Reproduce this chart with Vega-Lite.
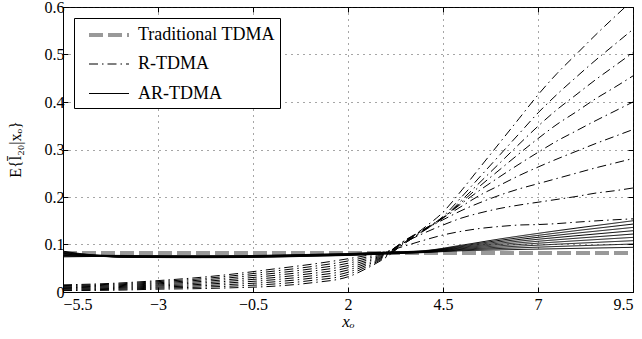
{
"$schema":"https://vega.github.io/schema/vega-lite/v6.json",
"width":570,"height":285,
"autosize":{"type":"none"},
"padding":{"left":63,"top":7,"right":9,"bottom":47},
"background":"white",
"config":{
"font":"Liberation Serif",
"view":{"stroke":"#000","strokeWidth":1},
"axis":{"labelFont":"Liberation Serif","titleFont":"Liberation Serif","labelColor":"#000","titleColor":"#000","labelFontSize":16,"titleFontSize":17,"titleFontWeight":"normal","domainColor":"#000","tickColor":"#000","tickSize":-5,"gridColor":"#222","gridDash":[1,5],"gridOpacity":0.8},
"legend":{"labelFont":"Liberation Serif","labelFontSize":18,"labelColor":"#000","strokeColor":"#000","fillColor":"#fff","padding":5,"symbolType":"M-2,0H2","symbolSize":400,"symbolOffset":18,"labelOffset":17,"rowPadding":9.5}
},
"data":{"values":[
{"m":"Traditional TDMA","c":"T","x":-5.5,"y":0.082},{"m":"Traditional TDMA","c":"T","x":9.5,"y":0.082},
{"m":"R-TDMA","c":"R1","x":-5.5,"y":0.003},{"m":"R-TDMA","c":"R1","x":-4,"y":0.004},{"m":"R-TDMA","c":"R1","x":-3,"y":0.006},{"m":"R-TDMA","c":"R1","x":-2,"y":0.007},{"m":"R-TDMA","c":"R1","x":-1,"y":0.009},{"m":"R-TDMA","c":"R1","x":0,"y":0.012},{"m":"R-TDMA","c":"R1","x":1,"y":0.019},{"m":"R-TDMA","c":"R1","x":2,"y":0.032},{"m":"R-TDMA","c":"R1","x":2.5,"y":0.05},{"m":"R-TDMA","c":"R1","x":3,"y":0.073},{"m":"R-TDMA","c":"R1","x":3.5,"y":0.105},{"m":"R-TDMA","c":"R1","x":4,"y":0.135},{"m":"R-TDMA","c":"R1","x":4.5,"y":0.168},{"m":"R-TDMA","c":"R1","x":5,"y":0.215},{"m":"R-TDMA","c":"R1","x":5.5,"y":0.265},{"m":"R-TDMA","c":"R1","x":6,"y":0.315},{"m":"R-TDMA","c":"R1","x":6.5,"y":0.365},{"m":"R-TDMA","c":"R1","x":7,"y":0.415},{"m":"R-TDMA","c":"R1","x":7.5,"y":0.46},{"m":"R-TDMA","c":"R1","x":8,"y":0.5},{"m":"R-TDMA","c":"R1","x":8.5,"y":0.54},{"m":"R-TDMA","c":"R1","x":9,"y":0.578},{"m":"R-TDMA","c":"R1","x":9.5,"y":0.615},
{"m":"R-TDMA","c":"R2","x":-5.5,"y":0.0045},{"m":"R-TDMA","c":"R2","x":-4,"y":0.0059},{"m":"R-TDMA","c":"R2","x":-3,"y":0.0083},{"m":"R-TDMA","c":"R2","x":-2,"y":0.0099},{"m":"R-TDMA","c":"R2","x":-1,"y":0.0126},{"m":"R-TDMA","c":"R2","x":0,"y":0.0165},{"m":"R-TDMA","c":"R2","x":1,"y":0.0239},{"m":"R-TDMA","c":"R2","x":2,"y":0.0368},{"m":"R-TDMA","c":"R2","x":2.5,"y":0.0534},{"m":"R-TDMA","c":"R2","x":3,"y":0.0745},{"m":"R-TDMA","c":"R2","x":3.5,"y":0.103},{"m":"R-TDMA","c":"R2","x":4,"y":0.13},{"m":"R-TDMA","c":"R2","x":4.5,"y":0.159},{"m":"R-TDMA","c":"R2","x":5,"y":0.201},{"m":"R-TDMA","c":"R2","x":5.5,"y":0.245},{"m":"R-TDMA","c":"R2","x":6,"y":0.289},{"m":"R-TDMA","c":"R2","x":6.5,"y":0.333},{"m":"R-TDMA","c":"R2","x":7,"y":0.377},{"m":"R-TDMA","c":"R2","x":7.5,"y":0.416},{"m":"R-TDMA","c":"R2","x":8,"y":0.452},{"m":"R-TDMA","c":"R2","x":8.5,"y":0.487},{"m":"R-TDMA","c":"R2","x":9,"y":0.52},{"m":"R-TDMA","c":"R2","x":9.5,"y":0.553},
{"m":"R-TDMA","c":"R3","x":-5.5,"y":0.006},{"m":"R-TDMA","c":"R3","x":-4,"y":0.0078},{"m":"R-TDMA","c":"R3","x":-3,"y":0.0105},{"m":"R-TDMA","c":"R3","x":-2,"y":0.0128},{"m":"R-TDMA","c":"R3","x":-1,"y":0.0163},{"m":"R-TDMA","c":"R3","x":0,"y":0.021},{"m":"R-TDMA","c":"R3","x":1,"y":0.0288},{"m":"R-TDMA","c":"R3","x":2,"y":0.0415},{"m":"R-TDMA","c":"R3","x":2.5,"y":0.0568},{"m":"R-TDMA","c":"R3","x":3,"y":0.076},{"m":"R-TDMA","c":"R3","x":3.5,"y":0.103},{"m":"R-TDMA","c":"R3","x":4,"y":0.129},{"m":"R-TDMA","c":"R3","x":4.5,"y":0.156},{"m":"R-TDMA","c":"R3","x":5,"y":0.194},{"m":"R-TDMA","c":"R3","x":5.5,"y":0.233},{"m":"R-TDMA","c":"R3","x":6,"y":0.272},{"m":"R-TDMA","c":"R3","x":6.5,"y":0.311},{"m":"R-TDMA","c":"R3","x":7,"y":0.349},{"m":"R-TDMA","c":"R3","x":7.5,"y":0.384},{"m":"R-TDMA","c":"R3","x":8,"y":0.415},{"m":"R-TDMA","c":"R3","x":8.5,"y":0.446},{"m":"R-TDMA","c":"R3","x":9,"y":0.475},{"m":"R-TDMA","c":"R3","x":9.5,"y":0.504},
{"m":"R-TDMA","c":"R4","x":-5.5,"y":0.0075},{"m":"R-TDMA","c":"R4","x":-4,"y":0.0096},{"m":"R-TDMA","c":"R4","x":-3,"y":0.0128},{"m":"R-TDMA","c":"R4","x":-2,"y":0.0156},{"m":"R-TDMA","c":"R4","x":-1,"y":0.0199},{"m":"R-TDMA","c":"R4","x":0,"y":0.0255},{"m":"R-TDMA","c":"R4","x":1,"y":0.0336},{"m":"R-TDMA","c":"R4","x":2,"y":0.0463},{"m":"R-TDMA","c":"R4","x":2.5,"y":0.0601},{"m":"R-TDMA","c":"R4","x":3,"y":0.0775},{"m":"R-TDMA","c":"R4","x":3.5,"y":0.105},{"m":"R-TDMA","c":"R4","x":4,"y":0.13},{"m":"R-TDMA","c":"R4","x":4.5,"y":0.156},{"m":"R-TDMA","c":"R4","x":5,"y":0.19},{"m":"R-TDMA","c":"R4","x":5.5,"y":0.225},{"m":"R-TDMA","c":"R4","x":6,"y":0.258},{"m":"R-TDMA","c":"R4","x":6.5,"y":0.291},{"m":"R-TDMA","c":"R4","x":7,"y":0.323},{"m":"R-TDMA","c":"R4","x":7.5,"y":0.353},{"m":"R-TDMA","c":"R4","x":8,"y":0.379},{"m":"R-TDMA","c":"R4","x":8.5,"y":0.406},{"m":"R-TDMA","c":"R4","x":9,"y":0.43},{"m":"R-TDMA","c":"R4","x":9.5,"y":0.455},
{"m":"R-TDMA","c":"R5","x":-5.5,"y":0.009},{"m":"R-TDMA","c":"R5","x":-4,"y":0.0115},{"m":"R-TDMA","c":"R5","x":-3,"y":0.015},{"m":"R-TDMA","c":"R5","x":-2,"y":0.0185},{"m":"R-TDMA","c":"R5","x":-1,"y":0.0235},{"m":"R-TDMA","c":"R5","x":0,"y":0.03},{"m":"R-TDMA","c":"R5","x":1,"y":0.0385},{"m":"R-TDMA","c":"R5","x":2,"y":0.051},{"m":"R-TDMA","c":"R5","x":2.5,"y":0.0635},{"m":"R-TDMA","c":"R5","x":3,"y":0.079},{"m":"R-TDMA","c":"R5","x":3.5,"y":0.107},{"m":"R-TDMA","c":"R5","x":4,"y":0.132},{"m":"R-TDMA","c":"R5","x":4.5,"y":0.157},{"m":"R-TDMA","c":"R5","x":5,"y":0.187},{"m":"R-TDMA","c":"R5","x":5.5,"y":0.216},{"m":"R-TDMA","c":"R5","x":6,"y":0.243},{"m":"R-TDMA","c":"R5","x":6.5,"y":0.269},{"m":"R-TDMA","c":"R5","x":7,"y":0.294},{"m":"R-TDMA","c":"R5","x":7.5,"y":0.318},{"m":"R-TDMA","c":"R5","x":8,"y":0.339},{"m":"R-TDMA","c":"R5","x":8.5,"y":0.36},{"m":"R-TDMA","c":"R5","x":9,"y":0.38},{"m":"R-TDMA","c":"R5","x":9.5,"y":0.4},
{"m":"R-TDMA","c":"R6","x":-5.5,"y":0.0105},{"m":"R-TDMA","c":"R6","x":-4,"y":0.0134},{"m":"R-TDMA","c":"R6","x":-3,"y":0.0173},{"m":"R-TDMA","c":"R6","x":-2,"y":0.0214},{"m":"R-TDMA","c":"R6","x":-1,"y":0.0271},{"m":"R-TDMA","c":"R6","x":0,"y":0.0345},{"m":"R-TDMA","c":"R6","x":1,"y":0.0434},{"m":"R-TDMA","c":"R6","x":2,"y":0.0558},{"m":"R-TDMA","c":"R6","x":2.5,"y":0.0669},{"m":"R-TDMA","c":"R6","x":3,"y":0.0805},{"m":"R-TDMA","c":"R6","x":3.5,"y":0.109},{"m":"R-TDMA","c":"R6","x":4,"y":0.132},{"m":"R-TDMA","c":"R6","x":4.5,"y":0.156},{"m":"R-TDMA","c":"R6","x":5,"y":0.181},{"m":"R-TDMA","c":"R6","x":5.5,"y":0.205},{"m":"R-TDMA","c":"R6","x":6,"y":0.225},{"m":"R-TDMA","c":"R6","x":6.5,"y":0.245},{"m":"R-TDMA","c":"R6","x":7,"y":0.263},{"m":"R-TDMA","c":"R6","x":7.5,"y":0.28},{"m":"R-TDMA","c":"R6","x":8,"y":0.296},{"m":"R-TDMA","c":"R6","x":8.5,"y":0.312},{"m":"R-TDMA","c":"R6","x":9,"y":0.327},{"m":"R-TDMA","c":"R6","x":9.5,"y":0.342},
{"m":"R-TDMA","c":"R7","x":-5.5,"y":0.012},{"m":"R-TDMA","c":"R7","x":-4,"y":0.0153},{"m":"R-TDMA","c":"R7","x":-3,"y":0.0195},{"m":"R-TDMA","c":"R7","x":-2,"y":0.0243},{"m":"R-TDMA","c":"R7","x":-1,"y":0.0308},{"m":"R-TDMA","c":"R7","x":0,"y":0.039},{"m":"R-TDMA","c":"R7","x":1,"y":0.0483},{"m":"R-TDMA","c":"R7","x":2,"y":0.0605},{"m":"R-TDMA","c":"R7","x":2.5,"y":0.0703},{"m":"R-TDMA","c":"R7","x":3,"y":0.082},{"m":"R-TDMA","c":"R7","x":3.5,"y":0.108},{"m":"R-TDMA","c":"R7","x":4,"y":0.131},{"m":"R-TDMA","c":"R7","x":4.5,"y":0.152},{"m":"R-TDMA","c":"R7","x":5,"y":0.172},{"m":"R-TDMA","c":"R7","x":5.5,"y":0.189},{"m":"R-TDMA","c":"R7","x":6,"y":0.204},{"m":"R-TDMA","c":"R7","x":6.5,"y":0.217},{"m":"R-TDMA","c":"R7","x":7,"y":0.228},{"m":"R-TDMA","c":"R7","x":7.5,"y":0.239},{"m":"R-TDMA","c":"R7","x":8,"y":0.25},{"m":"R-TDMA","c":"R7","x":8.5,"y":0.261},{"m":"R-TDMA","c":"R7","x":9,"y":0.271},{"m":"R-TDMA","c":"R7","x":9.5,"y":0.281},
{"m":"R-TDMA","c":"R8","x":-5.5,"y":0.0135},{"m":"R-TDMA","c":"R8","x":-4,"y":0.0171},{"m":"R-TDMA","c":"R8","x":-3,"y":0.0218},{"m":"R-TDMA","c":"R8","x":-2,"y":0.0271},{"m":"R-TDMA","c":"R8","x":-1,"y":0.0344},{"m":"R-TDMA","c":"R8","x":0,"y":0.0435},{"m":"R-TDMA","c":"R8","x":1,"y":0.0531},{"m":"R-TDMA","c":"R8","x":2,"y":0.0653},{"m":"R-TDMA","c":"R8","x":2.5,"y":0.0736},{"m":"R-TDMA","c":"R8","x":3,"y":0.0835},{"m":"R-TDMA","c":"R8","x":3.5,"y":0.105},{"m":"R-TDMA","c":"R8","x":4,"y":0.124},{"m":"R-TDMA","c":"R8","x":4.5,"y":0.141},{"m":"R-TDMA","c":"R8","x":5,"y":0.156},{"m":"R-TDMA","c":"R8","x":5.5,"y":0.167},{"m":"R-TDMA","c":"R8","x":6,"y":0.176},{"m":"R-TDMA","c":"R8","x":6.5,"y":0.183},{"m":"R-TDMA","c":"R8","x":7,"y":0.189},{"m":"R-TDMA","c":"R8","x":7.5,"y":0.195},{"m":"R-TDMA","c":"R8","x":8,"y":0.201},{"m":"R-TDMA","c":"R8","x":8.5,"y":0.208},{"m":"R-TDMA","c":"R8","x":9,"y":0.213},{"m":"R-TDMA","c":"R8","x":9.5,"y":0.219},
{"m":"R-TDMA","c":"R9","x":-5.5,"y":0.015},{"m":"R-TDMA","c":"R9","x":-4,"y":0.019},{"m":"R-TDMA","c":"R9","x":-3,"y":0.024},{"m":"R-TDMA","c":"R9","x":-2,"y":0.03},{"m":"R-TDMA","c":"R9","x":-1,"y":0.038},{"m":"R-TDMA","c":"R9","x":0,"y":0.048},{"m":"R-TDMA","c":"R9","x":1,"y":0.058},{"m":"R-TDMA","c":"R9","x":2,"y":0.07},{"m":"R-TDMA","c":"R9","x":2.5,"y":0.077},{"m":"R-TDMA","c":"R9","x":3,"y":0.085},{"m":"R-TDMA","c":"R9","x":3.5,"y":0.097},{"m":"R-TDMA","c":"R9","x":4,"y":0.109},{"m":"R-TDMA","c":"R9","x":4.5,"y":0.12},{"m":"R-TDMA","c":"R9","x":5,"y":0.128},{"m":"R-TDMA","c":"R9","x":5.5,"y":0.134},{"m":"R-TDMA","c":"R9","x":6,"y":0.138},{"m":"R-TDMA","c":"R9","x":6.5,"y":0.141},{"m":"R-TDMA","c":"R9","x":7,"y":0.142},{"m":"R-TDMA","c":"R9","x":7.5,"y":0.144},{"m":"R-TDMA","c":"R9","x":8,"y":0.147},{"m":"R-TDMA","c":"R9","x":8.5,"y":0.1496},{"m":"R-TDMA","c":"R9","x":9,"y":0.152},{"m":"R-TDMA","c":"R9","x":9.5,"y":0.154},
{"m":"AR-TDMA","c":"A1","x":-5.5,"y":0.086},{"m":"AR-TDMA","c":"A1","x":-5,"y":0.0805},{"m":"AR-TDMA","c":"A1","x":-4.5,"y":0.0774},{"m":"AR-TDMA","c":"A1","x":-4,"y":0.077},{"m":"AR-TDMA","c":"A1","x":-3,"y":0.0765},{"m":"AR-TDMA","c":"A1","x":-2,"y":0.0763},{"m":"AR-TDMA","c":"A1","x":-1,"y":0.0765},{"m":"AR-TDMA","c":"A1","x":0,"y":0.0775},{"m":"AR-TDMA","c":"A1","x":1,"y":0.0792},{"m":"AR-TDMA","c":"A1","x":2,"y":0.081},{"m":"AR-TDMA","c":"A1","x":3,"y":0.084},{"m":"AR-TDMA","c":"A1","x":4,"y":0.087},{"m":"AR-TDMA","c":"A1","x":5,"y":0.0987},{"m":"AR-TDMA","c":"A1","x":6,"y":0.1117},{"m":"AR-TDMA","c":"A1","x":7,"y":0.1234},{"m":"AR-TDMA","c":"A1","x":8,"y":0.1344},{"m":"AR-TDMA","c":"A1","x":9,"y":0.1448},{"m":"AR-TDMA","c":"A1","x":9.5,"y":0.15},
{"m":"AR-TDMA","c":"A2","x":-5.5,"y":0.0845},{"m":"AR-TDMA","c":"A2","x":-5,"y":0.0798},{"m":"AR-TDMA","c":"A2","x":-4.5,"y":0.0771},{"m":"AR-TDMA","c":"A2","x":-4,"y":0.0765},{"m":"AR-TDMA","c":"A2","x":-3,"y":0.076},{"m":"AR-TDMA","c":"A2","x":-2,"y":0.0758},{"m":"AR-TDMA","c":"A2","x":-1,"y":0.076},{"m":"AR-TDMA","c":"A2","x":0,"y":0.077},{"m":"AR-TDMA","c":"A2","x":1,"y":0.0787},{"m":"AR-TDMA","c":"A2","x":2,"y":0.0805},{"m":"AR-TDMA","c":"A2","x":3,"y":0.0835},{"m":"AR-TDMA","c":"A2","x":4,"y":0.0865},{"m":"AR-TDMA","c":"A2","x":5,"y":0.0972},{"m":"AR-TDMA","c":"A2","x":6,"y":0.1088},{"m":"AR-TDMA","c":"A2","x":7,"y":0.1192},{"m":"AR-TDMA","c":"A2","x":8,"y":0.1291},{"m":"AR-TDMA","c":"A2","x":9,"y":0.1384},{"m":"AR-TDMA","c":"A2","x":9.5,"y":0.143},
{"m":"AR-TDMA","c":"A3","x":-5.5,"y":0.083},{"m":"AR-TDMA","c":"A3","x":-5,"y":0.079},{"m":"AR-TDMA","c":"A3","x":-4.5,"y":0.0768},{"m":"AR-TDMA","c":"A3","x":-4,"y":0.076},{"m":"AR-TDMA","c":"A3","x":-3,"y":0.0755},{"m":"AR-TDMA","c":"A3","x":-2,"y":0.0753},{"m":"AR-TDMA","c":"A3","x":-1,"y":0.0755},{"m":"AR-TDMA","c":"A3","x":0,"y":0.0765},{"m":"AR-TDMA","c":"A3","x":1,"y":0.0782},{"m":"AR-TDMA","c":"A3","x":2,"y":0.08},{"m":"AR-TDMA","c":"A3","x":3,"y":0.083},{"m":"AR-TDMA","c":"A3","x":4,"y":0.086},{"m":"AR-TDMA","c":"A3","x":5,"y":0.0957},{"m":"AR-TDMA","c":"A3","x":6,"y":0.1059},{"m":"AR-TDMA","c":"A3","x":7,"y":0.1151},{"m":"AR-TDMA","c":"A3","x":8,"y":0.1238},{"m":"AR-TDMA","c":"A3","x":9,"y":0.1319},{"m":"AR-TDMA","c":"A3","x":9.5,"y":0.136},
{"m":"AR-TDMA","c":"A4","x":-5.5,"y":0.0815},{"m":"AR-TDMA","c":"A4","x":-5,"y":0.0783},{"m":"AR-TDMA","c":"A4","x":-4.5,"y":0.0764},{"m":"AR-TDMA","c":"A4","x":-4,"y":0.0755},{"m":"AR-TDMA","c":"A4","x":-3,"y":0.075},{"m":"AR-TDMA","c":"A4","x":-2,"y":0.0748},{"m":"AR-TDMA","c":"A4","x":-1,"y":0.075},{"m":"AR-TDMA","c":"A4","x":0,"y":0.076},{"m":"AR-TDMA","c":"A4","x":1,"y":0.0777},{"m":"AR-TDMA","c":"A4","x":2,"y":0.0795},{"m":"AR-TDMA","c":"A4","x":3,"y":0.0825},{"m":"AR-TDMA","c":"A4","x":4,"y":0.0855},{"m":"AR-TDMA","c":"A4","x":5,"y":0.0942},{"m":"AR-TDMA","c":"A4","x":6,"y":0.103},{"m":"AR-TDMA","c":"A4","x":7,"y":0.111},{"m":"AR-TDMA","c":"A4","x":8,"y":0.1184},{"m":"AR-TDMA","c":"A4","x":9,"y":0.1255},{"m":"AR-TDMA","c":"A4","x":9.5,"y":0.129},
{"m":"AR-TDMA","c":"A5","x":-5.5,"y":0.08},{"m":"AR-TDMA","c":"A5","x":-5,"y":0.0775},{"m":"AR-TDMA","c":"A5","x":-4.5,"y":0.0761},{"m":"AR-TDMA","c":"A5","x":-4,"y":0.075},{"m":"AR-TDMA","c":"A5","x":-3,"y":0.0745},{"m":"AR-TDMA","c":"A5","x":-2,"y":0.0743},{"m":"AR-TDMA","c":"A5","x":-1,"y":0.0745},{"m":"AR-TDMA","c":"A5","x":0,"y":0.0755},{"m":"AR-TDMA","c":"A5","x":1,"y":0.0772},{"m":"AR-TDMA","c":"A5","x":2,"y":0.079},{"m":"AR-TDMA","c":"A5","x":3,"y":0.082},{"m":"AR-TDMA","c":"A5","x":4,"y":0.085},{"m":"AR-TDMA","c":"A5","x":5,"y":0.0928},{"m":"AR-TDMA","c":"A5","x":6,"y":0.1002},{"m":"AR-TDMA","c":"A5","x":7,"y":0.1068},{"m":"AR-TDMA","c":"A5","x":8,"y":0.1131},{"m":"AR-TDMA","c":"A5","x":9,"y":0.119},{"m":"AR-TDMA","c":"A5","x":9.5,"y":0.122},
{"m":"AR-TDMA","c":"A6","x":-5.5,"y":0.0785},{"m":"AR-TDMA","c":"A6","x":-5,"y":0.0768},{"m":"AR-TDMA","c":"A6","x":-4.5,"y":0.0758},{"m":"AR-TDMA","c":"A6","x":-4,"y":0.0745},{"m":"AR-TDMA","c":"A6","x":-3,"y":0.074},{"m":"AR-TDMA","c":"A6","x":-2,"y":0.0738},{"m":"AR-TDMA","c":"A6","x":-1,"y":0.074},{"m":"AR-TDMA","c":"A6","x":0,"y":0.075},{"m":"AR-TDMA","c":"A6","x":1,"y":0.0767},{"m":"AR-TDMA","c":"A6","x":2,"y":0.0785},{"m":"AR-TDMA","c":"A6","x":3,"y":0.0815},{"m":"AR-TDMA","c":"A6","x":4,"y":0.0845},{"m":"AR-TDMA","c":"A6","x":5,"y":0.0913},{"m":"AR-TDMA","c":"A6","x":6,"y":0.0973},{"m":"AR-TDMA","c":"A6","x":7,"y":0.1027},{"m":"AR-TDMA","c":"A6","x":8,"y":0.1078},{"m":"AR-TDMA","c":"A6","x":9,"y":0.1126},{"m":"AR-TDMA","c":"A6","x":9.5,"y":0.115},
{"m":"AR-TDMA","c":"A7","x":-5.5,"y":0.077},{"m":"AR-TDMA","c":"A7","x":-5,"y":0.076},{"m":"AR-TDMA","c":"A7","x":-4.5,"y":0.0754},{"m":"AR-TDMA","c":"A7","x":-4,"y":0.074},{"m":"AR-TDMA","c":"A7","x":-3,"y":0.0735},{"m":"AR-TDMA","c":"A7","x":-2,"y":0.0733},{"m":"AR-TDMA","c":"A7","x":-1,"y":0.0735},{"m":"AR-TDMA","c":"A7","x":0,"y":0.0745},{"m":"AR-TDMA","c":"A7","x":1,"y":0.0762},{"m":"AR-TDMA","c":"A7","x":2,"y":0.078},{"m":"AR-TDMA","c":"A7","x":3,"y":0.081},{"m":"AR-TDMA","c":"A7","x":4,"y":0.084},{"m":"AR-TDMA","c":"A7","x":5,"y":0.0898},{"m":"AR-TDMA","c":"A7","x":6,"y":0.0944},{"m":"AR-TDMA","c":"A7","x":7,"y":0.0986},{"m":"AR-TDMA","c":"A7","x":8,"y":0.1025},{"m":"AR-TDMA","c":"A7","x":9,"y":0.1062},{"m":"AR-TDMA","c":"A7","x":9.5,"y":0.108},
{"m":"AR-TDMA","c":"A8","x":-5.5,"y":0.0755},{"m":"AR-TDMA","c":"A8","x":-5,"y":0.0753},{"m":"AR-TDMA","c":"A8","x":-4.5,"y":0.0751},{"m":"AR-TDMA","c":"A8","x":-4,"y":0.0735},{"m":"AR-TDMA","c":"A8","x":-3,"y":0.073},{"m":"AR-TDMA","c":"A8","x":-2,"y":0.0728},{"m":"AR-TDMA","c":"A8","x":-1,"y":0.073},{"m":"AR-TDMA","c":"A8","x":0,"y":0.074},{"m":"AR-TDMA","c":"A8","x":1,"y":0.0757},{"m":"AR-TDMA","c":"A8","x":2,"y":0.0775},{"m":"AR-TDMA","c":"A8","x":3,"y":0.0805},{"m":"AR-TDMA","c":"A8","x":4,"y":0.0835},{"m":"AR-TDMA","c":"A8","x":5,"y":0.0884},{"m":"AR-TDMA","c":"A8","x":6,"y":0.0916},{"m":"AR-TDMA","c":"A8","x":7,"y":0.0944},{"m":"AR-TDMA","c":"A8","x":8,"y":0.0972},{"m":"AR-TDMA","c":"A8","x":9,"y":0.0997},{"m":"AR-TDMA","c":"A8","x":9.5,"y":0.101},
{"m":"AR-TDMA","c":"A9","x":-5.5,"y":0.074},{"m":"AR-TDMA","c":"A9","x":-5,"y":0.0745},{"m":"AR-TDMA","c":"A9","x":-4.5,"y":0.0748},{"m":"AR-TDMA","c":"A9","x":-4,"y":0.073},{"m":"AR-TDMA","c":"A9","x":-3,"y":0.0725},{"m":"AR-TDMA","c":"A9","x":-2,"y":0.0723},{"m":"AR-TDMA","c":"A9","x":-1,"y":0.0725},{"m":"AR-TDMA","c":"A9","x":0,"y":0.0735},{"m":"AR-TDMA","c":"A9","x":1,"y":0.0752},{"m":"AR-TDMA","c":"A9","x":2,"y":0.077},{"m":"AR-TDMA","c":"A9","x":3,"y":0.08},{"m":"AR-TDMA","c":"A9","x":4,"y":0.083},{"m":"AR-TDMA","c":"A9","x":5,"y":0.0869},{"m":"AR-TDMA","c":"A9","x":6,"y":0.0887},{"m":"AR-TDMA","c":"A9","x":7,"y":0.0903},{"m":"AR-TDMA","c":"A9","x":8,"y":0.0918},{"m":"AR-TDMA","c":"A9","x":9,"y":0.0933},{"m":"AR-TDMA","c":"A9","x":9.5,"y":0.094}
]},
"encoding":{
"x":{"field":"x","type":"quantitative","scale":{"domain":[-5.5,9.5],"nice":false,"zero":false},"axis":null},
"y":{"field":"y","type":"quantitative","scale":{"domain":[0,0.6],"nice":false},"axis":null},
"color":{"field":"m","type":"nominal","scale":{"domain":["Traditional TDMA","R-TDMA","AR-TDMA"],"range":["#999999","#000000","#000000"]},"legend":{"orient":"none","legendX":11,"legendY":11,"title":null}},
"strokeDash":{"field":"m","type":"nominal","scale":{"domain":["Traditional TDMA","R-TDMA","AR-TDMA"],"range":[[14,5],[9,4,1.5,4],[1,0]]},"legend":{"orient":"none","legendX":11,"legendY":11,"title":null}},
"strokeWidth":{"field":"m","type":"nominal","scale":{"type":"ordinal","domain":["Traditional TDMA","R-TDMA","AR-TDMA"],"range":[4,1,1]},"legend":{"orient":"none","legendX":11,"legendY":11,"title":null}},
"detail":{"field":"c","type":"nominal"}
},
"layer":[
{"transform":[{"filter":"datum.m == 'Traditional TDMA'"}],
"mark":{"type":"line","clip":true},
"encoding":{
"x":{"field":"x","type":"quantitative","axis":{"orient":"bottom","values":[-5.5,-3,-0.5,2,4.5,7,9.5],"format":".1~f","grid":true,"labelPadding":9,"title":"xₒ","titleFontStyle":"italic","titleY":29,"titleBaseline":"middle"}},
"y":{"field":"y","type":"quantitative","axis":{"orient":"left","values":[0,0.1,0.2,0.3,0.4,0.5,0.6],"labelExpr":"datum.value == 0 ? '0' : format(datum.value, '.1f')","grid":true,"labelPadding":4,"title":"E{l̄₂₀|xₒ}","titleX":-48,"titleY":142,"titleAngle":270,"titleAlign":"center","titleBaseline":"middle","titleFontSize":16}}
}},
{"transform":[{"filter":"datum.m == 'R-TDMA'"}],
"mark":{"type":"line","clip":true,"interpolate":"monotone"},
"encoding":{
"x":{"field":"x","type":"quantitative","axis":{"orient":"top","values":[-5.5,-3,-0.5,2,4.5,7,9.5],"labels":false,"grid":false,"title":null,"domain":false}},
"y":{"field":"y","type":"quantitative","axis":{"orient":"right","values":[0,0.1,0.2,0.3,0.4,0.5,0.6],"labels":false,"grid":false,"title":null,"domain":false}}
}},
{"transform":[{"filter":"datum.m == 'AR-TDMA'"}],
"mark":{"type":"line","clip":true,"interpolate":"monotone"}}
],
"resolve":{"axis":{"x":"independent","y":"independent"}}
}
